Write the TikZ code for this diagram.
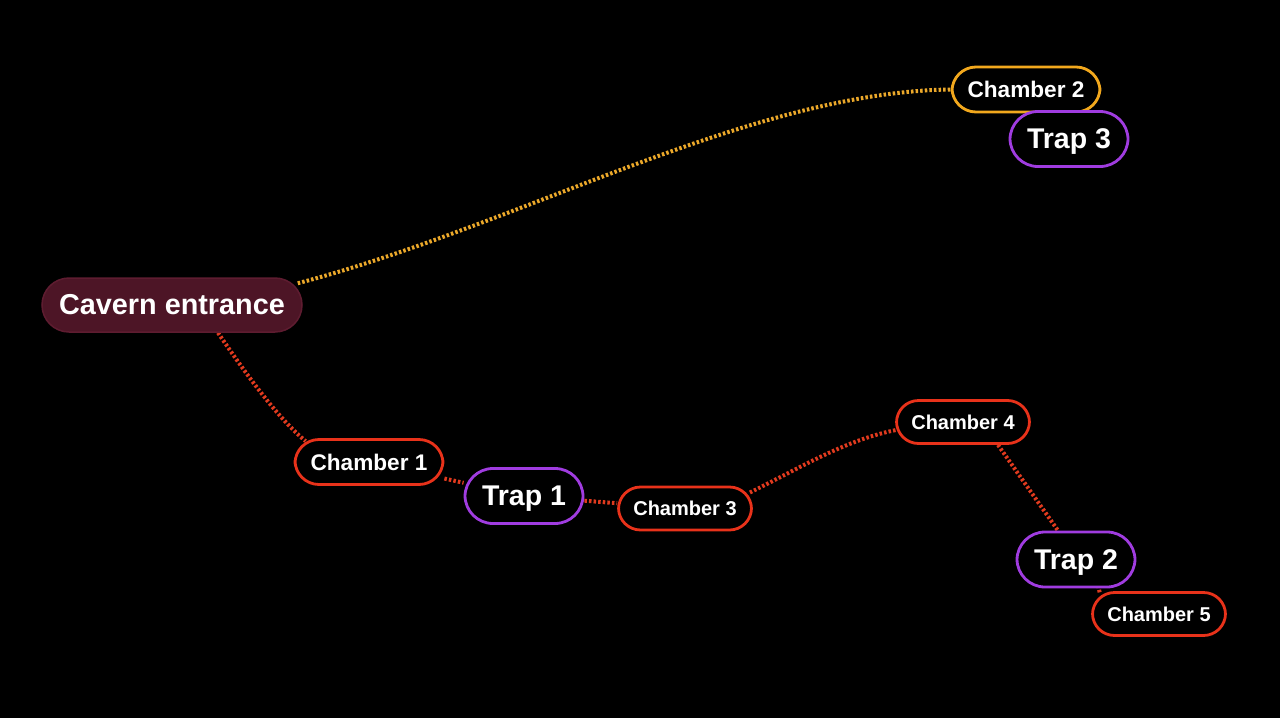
\documentclass[tikz,border=0pt]{standalone}
\usepackage{fontspec}
\setmainfont{Liberation Sans}
\usetikzlibrary{backgrounds,calc}
\definecolor{bgc}{HTML}{000000}
\definecolor{orangeb}{HTML}{F2A81D}
\definecolor{purpleb}{HTML}{A03CE0}
\definecolor{redb}{HTML}{E8321A}
\definecolor{maroonf}{HTML}{4D1526}
\definecolor{maroonb}{HTML}{5E1C30}
\definecolor{yedge}{HTML}{EBA82A}
\definecolor{redge}{HTML}{E03A1E}
\tikzset{
  pill/.style={draw, line width=2.8pt, fill=black, text=white, font=\bfseries, inner sep=0pt, rounded corners=#1},
  chamberbig/.style={pill=24pt, draw=redb, minimum width=148pt, minimum height=45pt, font=\bfseries\fontsize{22.6}{26}\selectfont},
  chambersmall/.style={pill=22pt, draw=redb, minimum width=133pt, minimum height=43pt, font=\bfseries\fontsize{20}{24}\selectfont},
  trapbox/.style={pill=28pt, draw=purpleb, minimum width=118pt, minimum height=55pt, text depth=0pt, font=\bfseries\fontsize{28.5}{32}\selectfont},
  entrybox/.style={pill=27pt, draw=maroonb, fill=maroonf, line width=1.5pt, minimum width=260pt, minimum height=54pt, font=\bfseries\fontsize{28.8}{33}\selectfont},
  link/.style={line width=4pt, dash pattern=on 2.5pt off 2.1pt},
  ylink/.style={link, draw=yedge},
  rlink/.style={link, draw=redge}
}
\begin{document}
\begin{tikzpicture}[x=1pt,y=-1pt]
\useasboundingbox (0,0) rectangle (1280,718);
\node[entrybox] (ent) at (172,305) {Cavern entrance};
\node[chamberbig, draw=orangeb] (ch2) at (1026,89.5) {Chamber 2};
\node[trapbox] (tr3) at (1069,139) {Trap 3};
\node[chamberbig] (ch1) at (369,462) {Chamber 1};
\node[trapbox] (tr1) at (524,496) {Trap 1};
\node[chambersmall] (ch3) at (685,508.5) {Chamber 3};
\node[chambersmall] (ch4) at (963,422) {Chamber 4};
\node[trapbox] (tr2) at (1076,559.5) {Trap 2};
\node[chambersmall] (ch5) at (1159,614) {Chamber 5};
\begin{scope}[on background layer]
  \fill[bgc] (0,0) rectangle (1280,718);
  \draw[ylink] ($(ent.north east)+(-5,6)$) .. controls (520,225) and (750,92) .. (ch2.west);
  \draw[rlink] ($(ent.south)+(46,0)$) .. controls (250,380) and (280,420) .. ($(ch1.north west)+(12,3)$);
  \draw[rlink] (ch1) -- (tr1);
  \draw[rlink] (tr1) -- (ch3);
  \draw[rlink] ($(ch3.east)+(-3,-16)$) .. controls (800,468) and (845,440) .. ($(ch4.west)+(1,8)$);
  \draw[rlink] ($(ch4.south)+(35,0)$) -- ($(tr2.north)+(-18,0)$);
  \draw[rlink] ($(tr2.south)+(22,-3)$) -- ($(ch5.north west)+(9,3)$);
\end{scope}
\end{tikzpicture}
\end{document}
